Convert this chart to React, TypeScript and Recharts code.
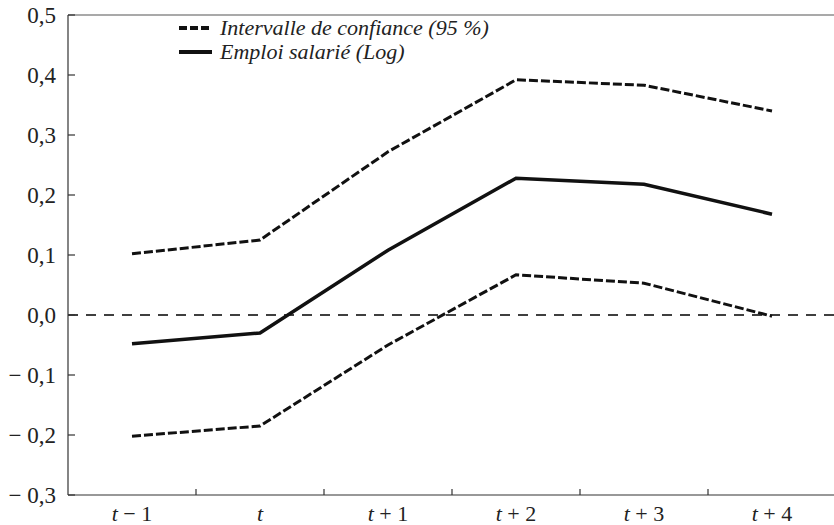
import React from 'react';
import { LineChart, Line, XAxis, YAxis, ReferenceLine, Legend } from 'recharts';

// Périodes autour de l'événement
const PERIODES = ['t − 1', 't', 't + 1', 't + 2', 't + 3', 't + 4'];
// Borne supérieure de l'intervalle de confiance (95 %)
const BORNE_SUP = [0.102, 0.125, 0.272, 0.392, 0.383, 0.34];
// Emploi salarié (Log)
const EMPLOI = [-0.048, -0.03, 0.108, 0.228, 0.218, 0.168];
// Borne inférieure
const BORNE_INF = [-0.202, -0.185, -0.05, 0.067, 0.053, -0.002];

const Y_TICKS = [-0.3, -0.2, -0.1, 0, 0.1, 0.2, 0.3, 0.4, 0.5];
const LEGENDE = ['Intervalle de confiance (95 %)', 'Emploi salarié (Log)'];

const data = PERIODES.map((p, i) => ({
  periode: p,
  sup: BORNE_SUP[i],
  emploi: EMPLOI[i],
  inf: BORNE_INF[i],
}));

const FONT = "'Liberation Serif', 'Times New Roman', serif";
const INK = '#111';
const AXE = '#333';
const PLOT_W = 768;
const PAD = PLOT_W / PERIODES.length / 2;

const formatY = (v: number) => {
  const s = Math.abs(v).toFixed(1).replace('.', ',');
  return v < -1e-9 ? `− ${s}` : s;
};

// Étiquette de l'axe X : "t" en italique + petite graduation entre les catégories
const XTick = ({ x, y, payload, index }: any) => {
  const label: string = payload.value;
  return (
    <g>
      {index < PERIODES.length - 1 && (
        <line x1={x + PAD} x2={x + PAD} y1={y} y2={y - 6} stroke={AXE} strokeWidth={1.2} />
      )}
      <text x={x} y={y + 26} textAnchor="middle" fontFamily={FONT} fontSize={22} fill="#222">
        <tspan fontStyle="italic">{label.charAt(0)}</tspan>
        <tspan>{label.slice(1)}</tspan>
      </text>
    </g>
  );
};

const LegendeContenu = () => (
  <div style={{ fontFamily: FONT, fontStyle: 'italic', fontSize: 22, color: '#222', lineHeight: '24px' }}>
    {LEGENDE.map((lab, i) => (
      <div key={lab} style={{ display: 'flex', alignItems: 'center', whiteSpace: 'nowrap' }}>
        <svg width={33} height={6} style={{ marginRight: 8 }}>
          <line x1={0} y1={3} x2={33} y2={3} stroke={INK} strokeWidth={4}
            strokeDasharray={i === 0 ? '8 3' : undefined} />
        </svg>
        <span>{lab}</span>
      </div>
    ))}
  </div>
);

export default function App() {
  return (
    <div style={{ position: 'absolute', left: 0, top: 0, width: 834, height: 525, overflow: 'hidden', background: '#fff' }}>
      <LineChart width={840} height={525} data={data} margin={{ top: 15, right: 4, bottom: 0, left: 0 }}>
        <XAxis
          dataKey="periode"
          height={30}
          padding={{ left: PAD, right: PAD }}
          axisLine={{ stroke: AXE, strokeWidth: 1.2 }}
          tickLine={false}
          tickSize={0}
          tickMargin={0}
          interval={0}
          tick={<XTick />}
        />
        <YAxis
          width={68}
          type="number"
          domain={[-0.3, 0.5]}
          ticks={Y_TICKS}
          interval={0}
          tickFormatter={formatY}
          axisLine={{ stroke: AXE, strokeWidth: 1.2 }}
          tickLine={{ stroke: AXE, strokeWidth: 1.2 }}
          tickSize={-7}
          tickMargin={19}
          tick={{ fontFamily: FONT, fontSize: 23, fill: '#222' }}
        />
        {/* cadre supérieur */}
        <ReferenceLine y={0.5} stroke="#555" strokeWidth={1.2} />
        {/* ligne du zéro */}
        <ReferenceLine y={0} stroke="#000" strokeWidth={1.3} strokeDasharray="10 8" />
        <Legend
          layout="horizontal"
          verticalAlign="middle"
          align="center"
          wrapperStyle={{ left: 179, top: 16, width: 380 }}
          content={<LegendeContenu />}
        />
        <Line type="linear" dataKey="sup" stroke={INK} strokeWidth={3} strokeDasharray="9 3" dot={false} isAnimationActive={false} />
        <Line type="linear" dataKey="inf" stroke={INK} strokeWidth={3} strokeDasharray="9 3" dot={false} isAnimationActive={false} />
        <Line type="linear" dataKey="emploi" stroke={INK} strokeWidth={3.5} dot={false} isAnimationActive={false} />
      </LineChart>
    </div>
  );
}
